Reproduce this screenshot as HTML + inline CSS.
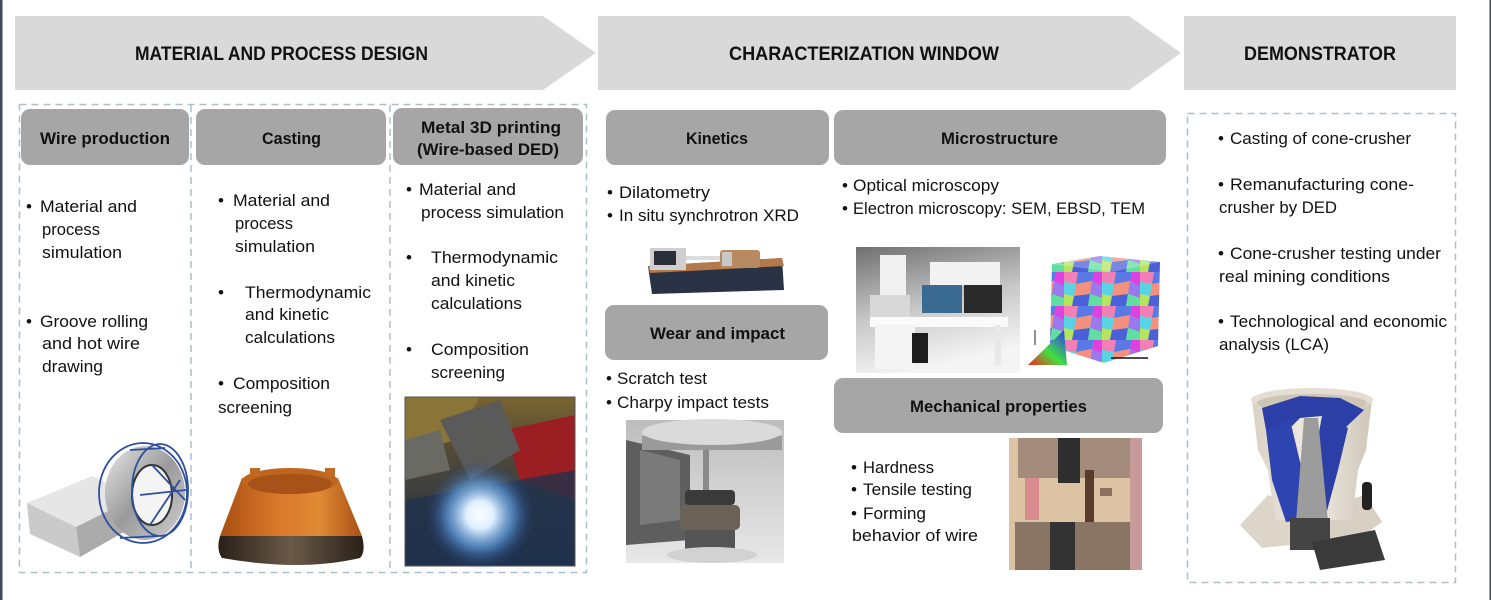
<!DOCTYPE html>
<html><head><meta charset="utf-8">
<style>
html,body{margin:0;padding:0;background:#fff;}
svg{display:block;}
.t{font-family:"Liberation Sans",Arial,sans-serif;font-size:17px;fill:#111;}
.h{font-family:"Liberation Sans",Arial,sans-serif;font-size:17px;font-weight:bold;fill:#111;}
.b{font-family:"Liberation Sans",Arial,sans-serif;font-size:19px;font-weight:bold;fill:#111;}
</style></head>
<body>
<svg width="1491" height="600" viewBox="0 0 1491 600" xmlns="http://www.w3.org/2000/svg">
<defs>
  <linearGradient id="semBg" x1="0" y1="0" x2="0.3" y2="1">
    <stop offset="0" stop-color="#707070"/><stop offset="0.55" stop-color="#c8c8c8"/><stop offset="1" stop-color="#f4f4f4"/>
  </linearGradient>
  <linearGradient id="orange" x1="0" y1="0" x2="1" y2="0">
    <stop offset="0" stop-color="#a84e12"/><stop offset="0.4" stop-color="#d9782a"/><stop offset="0.7" stop-color="#e08a35"/><stop offset="1" stop-color="#a85015"/>
  </linearGradient>
  <linearGradient id="band" x1="0" y1="0" x2="1" y2="0">
    <stop offset="0" stop-color="#2a2018"/><stop offset="0.5" stop-color="#6a5a48"/><stop offset="1" stop-color="#2a2018"/>
  </linearGradient>
  <radialGradient id="glow" cx="0.5" cy="0.5" r="0.5">
    <stop offset="0" stop-color="#ffffff"/><stop offset="0.25" stop-color="#dff0ff"/><stop offset="0.6" stop-color="#5f9ee0" stop-opacity="0.7"/><stop offset="1" stop-color="#1a3a70" stop-opacity="0"/>
  </radialGradient>
  <linearGradient id="weldBg" x1="0" y1="0" x2="0" y2="1">
    <stop offset="0" stop-color="#7a6430"/><stop offset="0.35" stop-color="#4e4838"/><stop offset="1" stop-color="#1c2c48"/>
  </linearGradient>
  <linearGradient id="silver" x1="0" y1="0" x2="1" y2="1">
    <stop offset="0" stop-color="#e8e8e8"/><stop offset="0.5" stop-color="#9a9a9a"/><stop offset="1" stop-color="#d0d0d0"/>
  </linearGradient>
  <linearGradient id="charpyBg" x1="0" y1="0" x2="0" y2="1">
    <stop offset="0" stop-color="#bdbdbd"/><stop offset="1" stop-color="#e8e8e8"/>
  </linearGradient>
  <linearGradient id="tri" x1="0" y1="1" x2="1" y2="0">
    <stop offset="0" stop-color="#ff2020"/><stop offset="0.45" stop-color="#40e040"/><stop offset="1" stop-color="#3030ff"/>
  </linearGradient>
  <linearGradient id="crBody" x1="0" y1="0" x2="1" y2="0">
    <stop offset="0" stop-color="#d9d1c4"/><stop offset="0.5" stop-color="#f0ebe2"/><stop offset="1" stop-color="#cfc6b8"/>
  </linearGradient>
  <pattern id="grain" width="38" height="34" patternUnits="userSpaceOnUse">
    <rect width="38" height="34" fill="#7fe07f"/>
    <polygon points="0,0 14,0 12,12 0,10" fill="#f27fb5"/>
    <polygon points="14,0 30,0 28,9 12,12" fill="#5a78e6"/>
    <polygon points="30,0 38,0 38,14 28,9" fill="#e040e0"/>
    <polygon points="0,10 12,12 10,24 0,22" fill="#58d4e4"/>
    <polygon points="12,12 28,9 26,22 10,24" fill="#f39080"/>
    <polygon points="28,9 38,14 38,26 26,22" fill="#9a78f0"/>
    <polygon points="0,22 10,24 8,34 0,34" fill="#b4e460"/>
    <polygon points="10,24 26,22 24,34 8,34" fill="#4a60d8"/>
    <polygon points="26,22 38,26 38,34 24,34" fill="#60e0a0"/>
  </pattern>
</defs>

<!-- side dark bars -->
<rect x="0" y="0" width="2.5" height="600" fill="#3c4a5a"/>
<rect x="1489.5" y="0" width="1.5" height="600" fill="#3c4a5a"/>

<!-- banners -->
<polygon points="15,16 543,16 596,53 543,90 15,90" fill="#d9d9d9"/>
<polygon points="598,16 1129,16 1181,53 1129,90 598,90" fill="#d9d9d9"/>
<rect x="1184" y="16" width="272" height="74" fill="#d9d9d9"/>
<text class="b" x="135" y="60" textLength="293" lengthAdjust="spacingAndGlyphs">MATERIAL AND PROCESS DESIGN</text>
<text class="b" x="729" y="60" textLength="270" lengthAdjust="spacingAndGlyphs">CHARACTERIZATION WINDOW</text>
<text class="b" x="1244" y="60" textLength="152" lengthAdjust="spacingAndGlyphs">DEMONSTRATOR</text>

<!-- dashed boxes -->
<g fill="none" stroke="#a8c0ce" stroke-width="1.5" stroke-dasharray="7 5">
  <rect x="19.5" y="104.5" width="567" height="468"/>
  <line x1="191" y1="105" x2="191" y2="573"/>
  <line x1="390" y1="105" x2="390" y2="573"/>
  <rect x="1187.5" y="113.5" width="268" height="469"/>
</g>

<!-- header boxes -->
<g fill="#a6a6a6">
  <rect x="21" y="109" width="168" height="56" rx="9"/>
  <rect x="196" y="109" width="190" height="56" rx="9"/>
  <rect x="393" y="108" width="190" height="57" rx="9"/>
  <rect x="606" y="110" width="223" height="55" rx="9"/>
  <rect x="834" y="110" width="332" height="55" rx="9"/>
  <rect x="605" y="305" width="223" height="55" rx="9"/>
  <rect x="834" y="378" width="329" height="55" rx="9"/>
</g>
<text class="h" x="40" y="144" textLength="130" lengthAdjust="spacingAndGlyphs">Wire production</text>
<text class="h" x="262" y="144" textLength="59" lengthAdjust="spacingAndGlyphs">Casting</text>
<text class="h" x="421" y="133" textLength="140" lengthAdjust="spacingAndGlyphs">Metal 3D printing</text>
<text class="h" x="417" y="155" textLength="142" lengthAdjust="spacingAndGlyphs">(Wire-based DED)</text>
<text class="h" x="686" y="144" textLength="62" lengthAdjust="spacingAndGlyphs">Kinetics</text>
<text class="h" x="941" y="144" textLength="117" lengthAdjust="spacingAndGlyphs">Microstructure</text>
<text class="h" x="650" y="339" textLength="135" lengthAdjust="spacingAndGlyphs">Wear and impact</text>
<text class="h" x="910" y="412" textLength="177" lengthAdjust="spacingAndGlyphs">Mechanical properties</text>

<!-- Column 1 text -->
<text class="t" x="26" y="212">•</text>
<text class="t" x="40" y="212" textLength="97" lengthAdjust="spacingAndGlyphs">Material and</text>
<text class="t" x="42" y="235" textLength="58" lengthAdjust="spacingAndGlyphs">process</text>
<text class="t" x="42" y="258" textLength="80" lengthAdjust="spacingAndGlyphs">simulation</text>
<text class="t" x="26" y="327">•</text>
<text class="t" x="40" y="327" textLength="108" lengthAdjust="spacingAndGlyphs">Groove rolling</text>
<text class="t" x="42" y="349" textLength="98" lengthAdjust="spacingAndGlyphs">and hot wire</text>
<text class="t" x="42" y="372" textLength="61" lengthAdjust="spacingAndGlyphs">drawing</text>

<!-- Column 2 text -->
<text class="t" x="218" y="206">•</text>
<text class="t" x="233" y="206" textLength="97" lengthAdjust="spacingAndGlyphs">Material and</text>
<text class="t" x="235" y="229" textLength="58" lengthAdjust="spacingAndGlyphs">process</text>
<text class="t" x="235" y="252" textLength="80" lengthAdjust="spacingAndGlyphs">simulation</text>
<text class="t" x="218" y="298">•</text>
<text class="t" x="245" y="298" textLength="126" lengthAdjust="spacingAndGlyphs">Thermodynamic</text>
<text class="t" x="245" y="320" textLength="84" lengthAdjust="spacingAndGlyphs">and kinetic</text>
<text class="t" x="245" y="343" textLength="90" lengthAdjust="spacingAndGlyphs">calculations</text>
<text class="t" x="218" y="389">•</text>
<text class="t" x="233" y="389" textLength="97" lengthAdjust="spacingAndGlyphs">Composition</text>
<text class="t" x="218" y="413" textLength="74" lengthAdjust="spacingAndGlyphs">screening</text>

<!-- Column 3 text -->
<text class="t" x="406" y="195">•</text>
<text class="t" x="419" y="195" textLength="97" lengthAdjust="spacingAndGlyphs">Material and</text>
<text class="t" x="421" y="218" textLength="143" lengthAdjust="spacingAndGlyphs">process simulation</text>
<text class="t" x="406" y="263">•</text>
<text class="t" x="431" y="263" textLength="127" lengthAdjust="spacingAndGlyphs">Thermodynamic</text>
<text class="t" x="431" y="286" textLength="84" lengthAdjust="spacingAndGlyphs">and kinetic</text>
<text class="t" x="431" y="309" textLength="91" lengthAdjust="spacingAndGlyphs">calculations</text>
<text class="t" x="406" y="355">•</text>
<text class="t" x="431" y="355" textLength="98" lengthAdjust="spacingAndGlyphs">Composition</text>
<text class="t" x="431" y="378" textLength="74" lengthAdjust="spacingAndGlyphs">screening</text>

<!-- Kinetics text -->
<text class="t" x="607" y="198">•</text>
<text class="t" x="619" y="198" textLength="91" lengthAdjust="spacingAndGlyphs">Dilatometry</text>
<text class="t" x="607" y="221">•</text>
<text class="t" x="619" y="221" textLength="180" lengthAdjust="spacingAndGlyphs">In situ synchrotron XRD</text>

<!-- Wear text -->
<text class="t" x="606" y="384">•</text>
<text class="t" x="617" y="384" textLength="90" lengthAdjust="spacingAndGlyphs">Scratch test</text>
<text class="t" x="606" y="408">•</text>
<text class="t" x="617" y="408" textLength="152" lengthAdjust="spacingAndGlyphs">Charpy impact tests</text>

<!-- Microstructure text -->
<text class="t" x="842" y="191">•</text>
<text class="t" x="853" y="191" textLength="146" lengthAdjust="spacingAndGlyphs">Optical microscopy</text>
<text class="t" x="842" y="214">•</text>
<text class="t" x="853" y="214" textLength="292" lengthAdjust="spacingAndGlyphs">Electron microscopy: SEM, EBSD, TEM</text>

<!-- Mechanical text -->
<text class="t" x="851" y="473">•</text>
<text class="t" x="863" y="473" textLength="71" lengthAdjust="spacingAndGlyphs">Hardness</text>
<text class="t" x="851" y="495">•</text>
<text class="t" x="863" y="495" textLength="109" lengthAdjust="spacingAndGlyphs">Tensile testing</text>
<text class="t" x="851" y="519">•</text>
<text class="t" x="863" y="519" textLength="63" lengthAdjust="spacingAndGlyphs">Forming</text>
<text class="t" x="852" y="541" textLength="126" lengthAdjust="spacingAndGlyphs">behavior of wire</text>

<!-- Demonstrator text -->
<text class="t" x="1218" y="144">•</text>
<text class="t" x="1230" y="144" textLength="181" lengthAdjust="spacingAndGlyphs">Casting of cone-crusher</text>
<text class="t" x="1218" y="190">•</text>
<text class="t" x="1230" y="190" textLength="184" lengthAdjust="spacingAndGlyphs">Remanufacturing cone-</text>
<text class="t" x="1219" y="213" textLength="118" lengthAdjust="spacingAndGlyphs">crusher by DED</text>
<text class="t" x="1218" y="259">•</text>
<text class="t" x="1230" y="259" textLength="211" lengthAdjust="spacingAndGlyphs">Cone-crusher testing under</text>
<text class="t" x="1219" y="282" textLength="171" lengthAdjust="spacingAndGlyphs">real mining conditions</text>
<text class="t" x="1218" y="327">•</text>
<text class="t" x="1230" y="327" textLength="217" lengthAdjust="spacingAndGlyphs">Technological and economic</text>
<text class="t" x="1219" y="350" textLength="110" lengthAdjust="spacingAndGlyphs">analysis (LCA)</text>

<!-- ===== Images ===== -->
<!-- Wire spool -->
<g>
  <polygon points="27,503 92,476 136,497 76,527" fill="#e6e6e6"/>
  <polygon points="27,503 76,527 80,557 30,534" fill="#cacaca"/>
  <polygon points="76,527 136,497 136,525 80,557" fill="#ababab"/>
  <ellipse cx="145" cy="493" rx="40" ry="47" fill="url(#silver)"/>
  <ellipse cx="152" cy="495" rx="20" ry="30" fill="#f4f4f4"/>
  <ellipse cx="152" cy="495" rx="20" ry="30" fill="none" stroke="#333" stroke-width="2"/>
  <g fill="none" stroke="#2d4f9e" stroke-width="1.8">
    <ellipse cx="143" cy="493" rx="44" ry="50"/>
    <ellipse cx="160" cy="490" rx="28" ry="46"/>
    <line x1="130" y1="450" x2="165" y2="448"/>
    <line x1="120" y1="538" x2="158" y2="536"/>
    <line x1="152" y1="465" x2="185" y2="500"/>
    <line x1="140" y1="495" x2="186" y2="490"/>
    <line x1="150" y1="525" x2="180" y2="480"/>
  </g>
</g>

<!-- Orange cone -->
<g>
  <path d="M242,478 L338,478 L362,536 L220,536 Z" fill="url(#orange)"/>
  <ellipse cx="290" cy="481" rx="48" ry="13" fill="#c0651e"/>
  <ellipse cx="290" cy="484" rx="42" ry="10" fill="#a65218"/>
  <rect x="250" y="468" width="10" height="8" fill="#c06a25"/>
  <rect x="325" y="468" width="10" height="8" fill="#c06a25"/>
  <path d="M220,536 L362,536 Q366,552 360,558 Q300,572 222,558 Q216,550 220,536 Z" fill="url(#band)"/>
</g>

<!-- Welding photo -->
<g>
  <rect x="405" y="397" width="170" height="169" fill="url(#weldBg)"/>
  <polygon points="505,430 575,415 575,500 520,480" fill="#9a1e22"/>
  <polygon points="405,397 480,397 455,440 405,455" fill="#8a7438"/>
  <polygon points="440,420 500,400 520,450 470,480" fill="#5a5a58"/>
  <polygon points="405,440 440,430 450,470 405,480" fill="#6a6a64"/>
  <polygon points="405,500 575,470 575,566 405,566" fill="#20324e" opacity="0.8"/>
  <circle cx="480" cy="515" r="55" fill="url(#glow)"/>
  <rect x="405" y="397" width="170" height="169" fill="none" stroke="#555" stroke-width="1"/>
</g>

<!-- Dilatometer -->
<g>
  <polygon points="648,266 782,258 784,290 652,294" fill="#2a3346"/>
  <polygon points="648,266 782,258 784,266 650,273" fill="#b57848"/>
  <rect x="650" y="248" width="36" height="22" fill="#cfcfcf"/>
  <rect x="654" y="251" width="22" height="14" fill="#2a2f3a"/>
  <rect x="686" y="256" width="36" height="4" fill="#dcdcdc"/>
  <rect x="720" y="250" width="40" height="18" rx="3" fill="#b88a62"/>
  <rect x="722" y="252" width="10" height="14" fill="#c8c8c8"/>
</g>

<!-- SEM -->
<g>
  <rect x="856" y="247" width="164" height="126" fill="url(#semBg)"/>
  <rect x="880" y="255" width="26" height="45" fill="#f0f0f0"/>
  <rect x="870" y="295" width="40" height="30" fill="#d8d8d8"/>
  <rect x="930" y="262" width="70" height="24" fill="#f2f2f2"/>
  <rect x="922" y="285" width="40" height="28" fill="#3a6a90"/>
  <rect x="964" y="285" width="38" height="28" fill="#2a2a2a"/>
  <rect x="870" y="317" width="138" height="10" fill="#fafafa"/>
  <rect x="875" y="325" width="40" height="44" fill="#f4f4f4"/>
  <rect x="912" y="333" width="16" height="30" fill="#1e1e1e"/>
  <rect x="995" y="325" width="6" height="40" fill="#e8e8e8"/>
</g>

<!-- EBSD cube -->
<g>
  <polygon points="1052,264 1100,256 1160,262 1158,346 1104,363 1050,346" fill="url(#grain)"/>
  <polygon points="1052,264 1100,256 1160,262 1112,272" fill="#ffffff" opacity="0.25"/>
  <polygon points="1028,365 1067,365 1064,330" fill="url(#tri)"/>
  <line x1="1035" y1="330" x2="1035" y2="345" stroke="#222" stroke-width="1"/>
  <line x1="1111" y1="358" x2="1148" y2="358" stroke="#111" stroke-width="1.5"/>
</g>

<!-- Charpy -->
<g>
  <rect x="626" y="420" width="158" height="143" fill="url(#charpyBg)"/>
  <polygon points="626,440 690,455 690,540 626,545" fill="#5e5e5e"/>
  <polygon points="640,450 680,460 680,520 640,525" fill="#7a7a7a"/>
  <ellipse cx="712" cy="436" rx="70" ry="16" fill="#c4c4c4"/>
  <rect x="642" y="436" width="140" height="14" fill="#9a9a9a"/>
  <ellipse cx="712" cy="432" rx="70" ry="13" fill="#dadada"/>
  <rect x="703" y="450" width="6" height="45" fill="#8a8a8a"/>
  <rect x="685" y="490" width="50" height="15" rx="4" fill="#3a3a3a"/>
  <rect x="680" y="505" width="60" height="25" rx="5" fill="#6a6256"/>
  <rect x="685" y="530" width="50" height="20" fill="#555"/>
  <ellipse cx="712" cy="555" rx="45" ry="8" fill="#d2d2d2"/>
</g>

<!-- Tensile -->
<g>
  <rect x="1009" y="438" width="133" height="132" fill="#dcc3a4"/>
  <rect x="1018" y="438" width="112" height="40" fill="#a48c7c"/>
  <rect x="1058" y="438" width="22" height="45" fill="#2e2e2e"/>
  <rect x="1085" y="470" width="9" height="60" fill="#5a3a2a"/>
  <rect x="1025" y="478" width="14" height="42" fill="#d98c90"/>
  <rect x="1130" y="438" width="12" height="132" fill="#c99a9a"/>
  <rect x="1015" y="522" width="115" height="48" fill="#8a7464"/>
  <rect x="1050" y="522" width="25" height="48" fill="#333"/>
  <rect x="1100" y="488" width="12" height="8" fill="#8a7060"/>
</g>

<!-- Cone crusher -->
<g>
  <!-- base feet -->
  <polygon points="1240,525 1268,495 1300,505 1290,545 1262,548" fill="#ddd5c8"/>
  <polygon points="1330,505 1365,495 1382,522 1350,545 1330,540" fill="#d8d0c2"/>
  <!-- body -->
  <path d="M1252,400 L1372,400 L1366,450 L1358,470 L1352,520 L1275,520 L1268,470 L1258,450 Z" fill="url(#crBody)"/>
  <ellipse cx="1312" cy="400" rx="61" ry="12" fill="#e4ddd0"/>
  <ellipse cx="1312" cy="403" rx="55" ry="9" fill="#cdc5b6"/>
  <!-- blue interior -->
  <polygon points="1262,408 1300,396 1340,398 1364,410 1345,428 1322,416 1300,418 1278,440 1266,430" fill="#2b3fa6"/>
  <polygon points="1266,430 1290,420 1302,470 1306,520 1286,522 1272,480" fill="#2e44b0"/>
  <polygon points="1322,416 1348,428 1338,470 1324,522 1312,470" fill="#2b3fa6"/>
  <polygon points="1304,418 1318,418 1328,522 1296,522" fill="#9c9c9c"/>
  <!-- bottom drive -->
  <rect x="1290" y="518" width="40" height="32" fill="#444"/>
  <polygon points="1312,542 1375,530 1385,560 1320,570" fill="#3a3a3a"/>
  <rect x="1362" y="482" width="10" height="28" rx="4" fill="#222"/>
</g>

</svg>
</body></html>
